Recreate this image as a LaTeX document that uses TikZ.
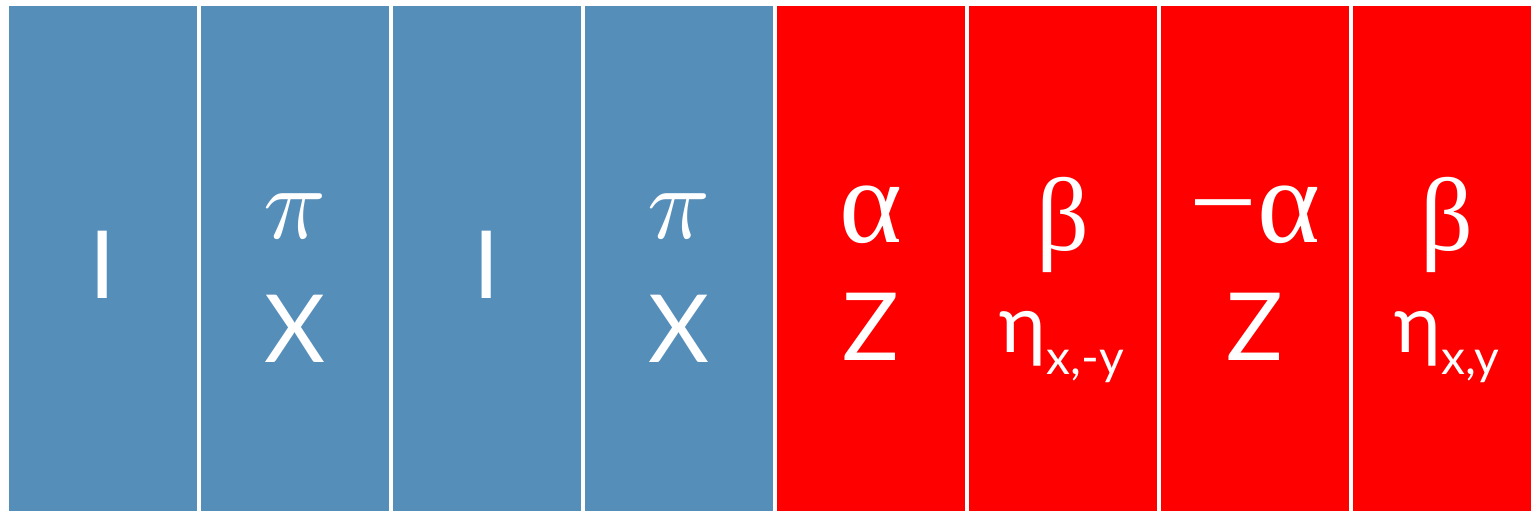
\documentclass[tikz,border=0pt]{standalone}
\usepackage{graphicx}
\usepackage{fontspec}
\setmainfont{Lato}
\newfontfamily\grk{Liberation Serif}
\definecolor{boxblue}{HTML}{568EBA}
\definecolor{boxred}{HTML}{FF0000}
\begin{document}
\begin{tikzpicture}[x=0.5pt,y=-0.5pt,
  lat/.style={text=white,inner sep=0pt,anchor=base,font=\fontsize{47}{47}\selectfont},
  gr/.style={text=white,inner sep=0pt,anchor=base,font=\grk\fontsize{52}{52}\selectfont},
  alf/.style={text=white,inner sep=0pt,anchor=base,font=\grk\fontsize{60}{60}\selectfont},
  pis/.style={text=white,inner sep=0pt,anchor=base},
  eta/.style={text=white,inner sep=0pt,anchor=base,font=\fontsize{40}{40}\selectfont}]
\useasboundingbox[fill=white] (0,0) rectangle (1531,511);
\fill[boxblue] (9,6) rectangle (197,511);
\fill[boxblue] (201,6) rectangle (389,511);
\fill[boxblue] (393,6) rectangle (581,511);
\fill[boxblue] (585,6) rectangle (773,511);
\fill[boxred] (777,6) rectangle (965,511);
\fill[boxred] (969,6) rectangle (1157,511);
\fill[boxred] (1161,6) rectangle (1349,511);
\fill[boxred] (1353,6) rectangle (1531,511);
% box 1
\node[lat] (i1) at (103,298) {I};
% box 2
\node[pis] (p1) at (295,238) {\scalebox{5.2}{$\pi$}};
\node[lat] (x1) at (295,362) {X};
% box 3
\node[lat] (i2) at (487,298) {I};
% box 4
\node[pis] (p2) at (679,238) {\scalebox{5.2}{$\pi$}};
\node[lat] (x2) at (679,362) {X};
% box 5
\node[alf] (a1) at (871,242) {α};
\node[lat] (z1) at (871,360) {Z};
% box 6
\node[gr] (b1) at (1063,250) {β};
\node[eta] (e1) at (1062,352) {η\raisebox{-11pt}{\fontsize{24}{24}\selectfont x,-y}};
% box 7
\node[alf] (a2) at (1255,242) {−α};
\node[lat] (z2) at (1255,360) {Z};
% box 8
\node[gr] (b2) at (1447,250) {β};
\node[eta] (e2) at (1447,352) {η\raisebox{-11pt}{\fontsize{24}{24}\selectfont x,y}};
\end{tikzpicture}
\end{document}
